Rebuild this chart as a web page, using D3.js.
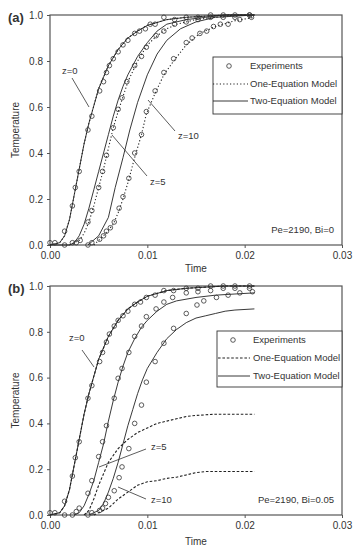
<!DOCTYPE html>
<html><head><meta charset="utf-8">
<script src="https://cdn.jsdelivr.net/npm/d3@7/dist/d3.min.js"></script>
<style>body{margin:0;background:#fff}svg{display:block}text{font-family:"Liberation Sans",Arial,sans-serif;fill:#333}</style>
</head><body>
<svg id="c" width="359" height="550"></svg>
<script>
// ---------- data ----------
const xTicks = [0, 0.01, 0.02, 0.03];
const yTicks = [0, 0.2, 0.4, 0.6, 0.8, 1.0];
const legendLabels = ["Experiments", "One-Equation Model", "Two-Equation Model"];

// Panel (a): Pe=2190, Bi=0
const aExpZ0 = [[0,.01],[.0005,.01],[.0015,.06],[.0023,.17],[.0026,.25],[.003,.32],[.0039,.50],[.0043,.56],[.0051,.67],[.0055,.71],[.0058,.75],[.0061,.78],[.0065,.81],[.007,.84],[.0075,.87],[.008,.89],[.0087,.92],[.0092,.93],[.0098,.94],[.0103,.96],[.0108,.96],[.0117,.99],[.0128,.98],[.014,.99],[.0152,.99],[.0165,1.0],[.0178,1.0],[.019,.99],[.0205,1.0]];
const aExpZ5 = [[.0015,0],[.0023,.01],[.0027,.01],[.0031,.02],[.0039,.10],[.0043,.15],[.005,.25],[.0054,.32],[.0058,.39],[.0065,.51],[.007,.59],[.0074,.64],[.0079,.71],[.0087,.78],[.0094,.82],[.0099,.86],[.0109,.91],[.0117,.93],[.0128,.96],[.014,.97],[.0152,.98],[.0165,.99],[.0178,.99],[.019,1.0],[.0205,1.0]];
const aExpZ10 = [[.0039,0],[.0043,.01],[.0051,.025],[.0055,.04],[.0058,.06],[.0062,.075],[.0066,.10],[.0071,.16],[.0075,.21],[.0081,.29],[.0087,.40],[.0094,.48],[.0099,.58],[.0108,.67],[.0117,.75],[.0127,.81],[.014,.88],[.0146,.90],[.0154,.92],[.0161,.93],[.0168,.95],[.0175,.96],[.0183,.96],[.0195,.98],[.0207,.99]];
const aTwoZ0 = [[0,0],[.001,.01],[.0015,.04],[.002,.11],[.0025,.22],[.003,.33],[.0035,.44],[.004,.53],[.005,.68],[.006,.78],[.007,.85],[.008,.90],[.009,.93],[.010,.955],[.012,.98],[.014,.99],[.016,.995],[.018,1.0],[.021,1.0]];
const aOneZ0 = [[0,0],[.001,.01],[.0015,.04],[.002,.11],[.0025,.22],[.003,.33],[.0035,.44],[.004,.53],[.005,.68],[.006,.78],[.007,.85],[.008,.90],[.009,.93],[.010,.955],[.012,.98],[.014,.99],[.016,.995],[.018,1.0],[.021,1.0]];
const aTwoZ5 = [[0,0],[.002,0],[.0025,.01],[.003,.04],[.0035,.09],[.004,.16],[.0045,.24],[.005,.32],[.0055,.40],[.006,.48],[.0065,.56],[.007,.63],[.0075,.69],[.008,.74],[.009,.82],[.010,.88],[.011,.93],[.012,.96],[.014,.98],[.016,.99],[.018,1.0],[.021,1.0]];
const aOneZ5 = [[.002,0],[.003,.02],[.0035,.05],[.004,.10],[.0045,.17],[.005,.25],[.0055,.33],[.006,.42],[.0065,.51],[.007,.58],[.008,.71],[.009,.80],[.010,.87],[.011,.91],[.012,.94],[.013,.96],[.015,.98],[.017,.99],[.019,1.0],[.021,1.0]];
const aTwoZ10 = [[.0039,0],[.005,.04],[.006,.12],[.0067,.25],[.0075,.38],[.0082,.50],[.009,.62],[.010,.74],[.011,.83],[.012,.89],[.0134,.94],[.015,.97],[.017,.99],[.021,1.0]];
const aOneZ10 = [[.0045,0],[.005,.02],[.0055,.04],[.006,.065],[.0065,.09],[.007,.14],[.0075,.20],[.008,.27],[.0087,.38],[.0094,.48],[.0099,.57],[.0108,.66],[.0117,.74],[.0127,.80],[.014,.87],[.0154,.92],[.017,.95],[.019,.975],[.021,.99]];

// Panel (b): Pe=2190, Bi=0.05
const bExpZ0 = [[0,.01],[.0005,.01],[.0015,.06],[.0023,.17],[.0026,.25],[.003,.32],[.0039,.51],[.0043,.565],[.0051,.67],[.0054,.71],[.0058,.755],[.0061,.79],[.0066,.825],[.007,.85],[.0075,.87],[.008,.89],[.0087,.92],[.0093,.93],[.0099,.95],[.0108,.96],[.0117,.98],[.0127,.98],[.014,.99],[.0152,.99],[.0165,1.0],[.0178,1.0],[.019,1.0],[.0205,1.0]];
const bExpZ5 = [[.0015,0],[.0023,0],[.0027,.015],[.003,.03],[.0039,.095],[.0043,.15],[.005,.255],[.0054,.32],[.0058,.39],[.0066,.51],[.0070,.597],[.0074,.64],[.0081,.71],[.0087,.78],[.0094,.825],[.0099,.866],[.0109,.90],[.0117,.93],[.0126,.95],[.014,.97],[.0152,.975],[.0165,.98],[.0178,.99],[.019,.99],[.0205,.99]];
const bExpZ10 = [[.0039,0],[.0043,.01],[.0051,.02],[.0054,.03],[.0057,.05],[.0060,.077],[.0066,.106],[.0071,.163],[.0074,.21],[.0081,.29],[.0087,.40],[.0094,.48],[.0099,.58],[.0108,.67],[.0117,.75],[.0127,.815],[.014,.88],[.0151,.917],[.0158,.935],[.0171,.95],[.0183,.96],[.0195,.97],[.0208,.975]];
const bTwoZ0 = [[0,0],[.001,.01],[.0015,.04],[.002,.11],[.0025,.22],[.003,.33],[.0035,.44],[.004,.53],[.005,.68],[.006,.78],[.007,.85],[.008,.90],[.009,.93],[.010,.955],[.012,.98],[.014,.99],[.016,.995],[.018,1.0],[.021,1.0]];
const bOneZ0 = [[0,0],[.001,.01],[.0015,.04],[.002,.11],[.0025,.22],[.003,.33],[.0035,.44],[.004,.53],[.005,.68],[.006,.78],[.007,.85],[.008,.90],[.009,.93],[.010,.955],[.012,.98],[.014,.99],[.016,.995],[.018,1.0],[.021,1.0]];
const bTwoZ5 = [[.0025,0],[.003,.01],[.0035,.04],[.004,.09],[.0045,.15],[.005,.23],[.0055,.31],[.006,.41],[.0065,.50],[.007,.58],[.0075,.65],[.008,.71],[.0087,.77],[.0094,.82],[.010,.85],[.011,.89],[.012,.92],[.013,.935],[.015,.95],[.017,.96],[.019,.965],[.021,.97]];
const bOneZ5 = [[.0035,0],[.004,.02],[.0045,.07],[.005,.13],[.0055,.18],[.006,.23],[.007,.29],[.008,.33],[.009,.36],[.010,.38],[.011,.40],[.012,.41],[.013,.42],[.014,.43],[.015,.435],[.017,.44],[.019,.44],[.021,.44]];
const bTwoZ10 = [[.004,0],[.005,.02],[.0055,.05],[.006,.10],[.0065,.16],[.007,.23],[.0075,.31],[.008,.39],[.0085,.46],[.009,.53],[.0095,.59],[.010,.64],[.011,.71],[.012,.77],[.013,.81],[.014,.84],[.015,.86],[.016,.87],[.017,.88],[.018,.89],[.019,.895],[.021,.90]];
const bOneZ10 = [[.0045,0],[.005,.01],[.006,.03],[.0065,.05],[.007,.07],[.008,.10],[.009,.13],[.010,.145],[.011,.15],[.012,.16],[.013,.165],[.014,.175],[.015,.185],[.016,.19],[.018,.19],[.021,.19]];

const panels = [
  {tag:"(a)", note:"Pe=2190, Bi=0", top:15, bottom:245, timeY:268, dash:"1.2,2.2",
   exp:[aExpZ0,aExpZ5,aExpZ10], one:[aOneZ0,aOneZ5,aOneZ10], two:[aTwoZ0,aTwoZ5,aTwoZ10],
   legend:{x0:213,x1:342,y0:57,y1:114,cx:229,lx0:213,lx1:248,tx:250,rows:[66,84,101]},
   labels:[{t:"z=0",x:62,y:71,l:[72,78,89,107]},{t:"z=5",x:150,y:182,l:[112,135,147,176]},{t:"z=10",x:178,y:136,l:[148,100,175,131]}]},
  {tag:"(b)", note:"Pe=2190, Bi=0.05", top:286, bottom:515, timeY:541, dash:"2.6,1.8",
   exp:[bExpZ0,bExpZ5,bExpZ10], one:[bOneZ0,bOneZ5,bOneZ10], two:[bTwoZ0,bTwoZ5,bTwoZ10],
   legend:{x0:217,x1:342,y0:331,y1:387,cx:233,lx0:218,lx1:250,tx:253,rows:[340,358,376]},
   labels:[{t:"z=0",x:69,y:338,l:[82,350,94,367]},{t:"z=5",x:151,y:447,l:[99,467,146,449]},{t:"z=10",x:151,y:500,l:[118,487,146,499]}]}
];

// ---------- drawing ----------
const svg = d3.select("#c");
const left = 50, right = 342;
const x = d3.scaleLinear().domain([0, 0.03]).range([left, right]);

panels.forEach(p => {
  const y = d3.scaleLinear().domain([0, 1]).range([p.bottom, p.top]);
  const g = svg.append("g");
  const line = d3.line().x(d => x(d[0])).y(d => y(d[1]));

  // axes
  const ax = g.append("g").attr("transform", `translate(0,${p.bottom})`)
    .call(d3.axisBottom(x).tickValues(xTicks).tickFormat(d3.format(".2f")).tickSize(3).tickPadding(4));
  const ay = g.append("g").attr("transform", `translate(${left},0)`)
    .call(d3.axisLeft(y).tickValues(yTicks).tickFormat(d3.format(".1f")).tickSize(3).tickPadding(4));
  [ax, ay].forEach(a => {
    a.select(".domain").remove();
    a.selectAll("line").attr("stroke", "#555");
    a.selectAll("text").attr("font-size", 10).attr("fill", "#333").attr("font-family", "Liberation Sans, Arial, sans-serif");
  });
  g.append("rect").attr("x", left).attr("y", p.top).attr("width", right-left).attr("height", p.bottom-p.top)
    .attr("fill", "none").attr("stroke", "#555").attr("stroke-width", 1.2);

  // model lines
  p.two.forEach(s => g.append("path").attr("d", line(s)).attr("fill", "none").attr("stroke", "#222").attr("stroke-width", 0.9));
  p.one.forEach(s => g.append("path").attr("d", line(s)).attr("fill", "none").attr("stroke", "#222").attr("stroke-width", 1.1).attr("stroke-dasharray", p.dash));

  // experiments
  p.exp.forEach(s => g.selectAll(null).data(s).join("circle")
    .attr("cx", d => x(d[0])).attr("cy", d => y(d[1])).attr("r", 2.3)
    .attr("fill", "none").attr("stroke", "#333").attr("stroke-width", 0.8));

  // annotations
  p.labels.forEach(l => {
    g.append("line").attr("x1", l.l[0]).attr("y1", l.l[1]).attr("x2", l.l[2]).attr("y2", l.l[3]).attr("stroke", "#333").attr("stroke-width", 0.8);
    g.append("text").attr("x", l.x).attr("y", l.y).attr("dy", "0.35em").attr("font-size", 9.5).text(l.t);
  });

  // legend
  const L = p.legend;
  g.append("rect").attr("x", L.x0).attr("y", L.y0).attr("width", L.x1-L.x0).attr("height", L.y1-L.y0)
    .attr("fill", "#fff").attr("stroke", "#333").attr("stroke-width", 0.9);
  g.append("circle").attr("cx", L.cx).attr("cy", L.rows[0]).attr("r", 2.3).attr("fill", "none").attr("stroke", "#333").attr("stroke-width", 0.8);
  g.append("line").attr("x1", L.lx0).attr("x2", L.lx1).attr("y1", L.rows[1]).attr("y2", L.rows[1]).attr("stroke", "#222").attr("stroke-width", 1.1).attr("stroke-dasharray", p.dash);
  g.append("line").attr("x1", L.lx0).attr("x2", L.lx1).attr("y1", L.rows[2]).attr("y2", L.rows[2]).attr("stroke", "#222").attr("stroke-width", 0.9);
  legendLabels.forEach((t, i) => g.append("text").attr("x", L.tx).attr("y", L.rows[i]).attr("dy", "0.35em").attr("font-size", 9.5).text(t));

  // texts
  g.append("text").attr("x", 334).attr("y", p.bottom - 15).attr("dy", "0.35em").attr("text-anchor", "end").attr("font-size", 9.5).text(p.note);
  g.append("text").attr("x", (left+right)/2).attr("y", p.timeY).attr("dy", "0.35em").attr("text-anchor", "middle").attr("font-size", 10).text("Time");
  g.append("text").attr("transform", `translate(15,${(p.top+p.bottom)/2}) rotate(-90)`).attr("dy", "0.35em").attr("text-anchor", "middle").attr("font-size", 10).text("Temperature");
  g.append("text").attr("x", 8).attr("y", p.top + 2).attr("dy", "0.35em").attr("font-size", 13).attr("font-weight", "bold").attr("fill", "#222").text(p.tag);
});
</script>
</body></html>
